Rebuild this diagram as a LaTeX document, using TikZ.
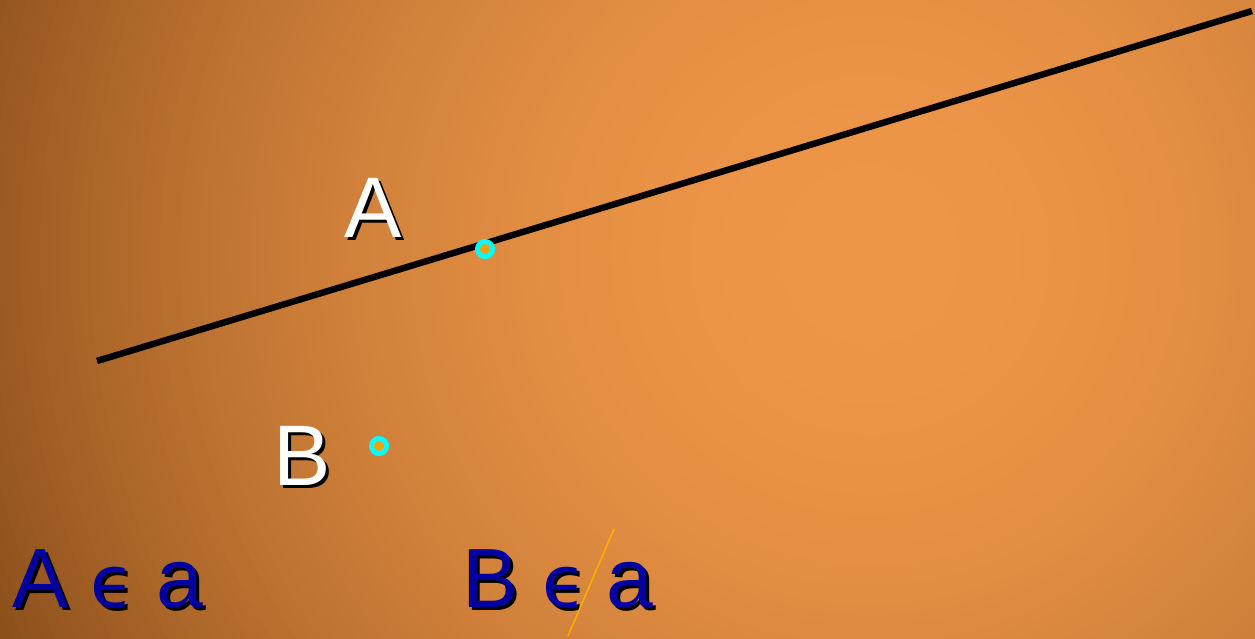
\documentclass[tikz,border=0pt]{standalone}
\usepackage{fontspec}
\setmainfont{Liberation Sans}
\newfontfamily\greekfont{DejaVu Sans}
\usepackage{xcolor}
\usetikzlibrary{positioning}

\definecolor{glowin}{RGB}{238,150,72}
\definecolor{glowedge}{RGB}{130,72,22}
\definecolor{setblue}{RGB}{0,0,160}
\definecolor{ptcyan}{RGB}{0,255,255}
\definecolor{ptorange}{RGB}{245,160,0}
\definecolor{slashorange}{RGB}{255,170,0}

\begin{document}
\begin{tikzpicture}[
x=1pt, y=-1pt,
lettxt/.style={anchor=base, inner sep=0pt, text=white, font=\fontsize{86}{90}\selectfont},
bluetxt/.style={anchor=base, inner sep=0pt, text=setblue, font=\fontsize{84}{88}\selectfont},
epstxt/.style={bluetxt, font=\greekfont\fontsize{72}{76}\selectfont},
dropsh/.style={text=black, xshift=3pt, yshift=-3pt},
dotpt/.style={circle, draw=ptcyan, fill=ptorange, line width=5pt, minimum size=15pt, inner sep=0pt},
slash/.style={draw=slashorange, line width=1.6pt}
]
\useasboundingbox (0,0) rectangle (1255,638);
\clip (0,0) rectangle (1255,638);
% background glow
\foreach \rad in {1000,990,...,10} {
  \pgfmathsetmacro\glowpct{100*(1-(\rad/1000)^2)}
  \fill[glowin!\glowpct!glowedge] (870,255) circle (\rad pt);
}

% the line a
\coordinate (lineL) at (97,361);
\coordinate (lineR) at (1252,11);
\draw[line width=6.5pt] (lineL) -- (lineR);

% points
\node[dotpt] (ptA) at (485,249) {};
\node[dotpt] (ptB) at (379,446) {};

% point labels
\node[lettxt, dropsh] (labA-sh) at (373,237) {A};
\node[lettxt] (labA) at (373,237) {A};
\node[lettxt, dropsh] (labB-sh) at (302,485) {B};
\node[lettxt] (labB) at (302,485) {B};

% A in a
\node[bluetxt, dropsh] (inA-sh) at (41,607) {A};
\node[bluetxt] (inA) at (41,607) {A};
\node[epstxt, dropsh] (inE-sh) at (113,607) {ϵ};
\node[epstxt] (inE) at (113,607) {ϵ};
\node[bluetxt, dropsh] (inLine-sh) at (180,607) {a};
\node[bluetxt] (inLine) at (180,607) {a};

% B not in a
\node[bluetxt, dropsh] (outB-sh) at (491,607) {B};
\node[bluetxt] (outB) at (491,607) {B};
\node[epstxt, dropsh] (outE-sh) at (565,607) {ϵ};
\node[epstxt] (outE) at (565,607) {ϵ};
\node[bluetxt, dropsh] (outLine-sh) at (630,607) {a};
\node[bluetxt] (outLine) at (630,607) {a};

\coordinate (slashT) at (614,529);
\coordinate (slashB) at (568,636);
\draw[slash] (slashT) -- (slashB);
\end{tikzpicture}
\end{document}
